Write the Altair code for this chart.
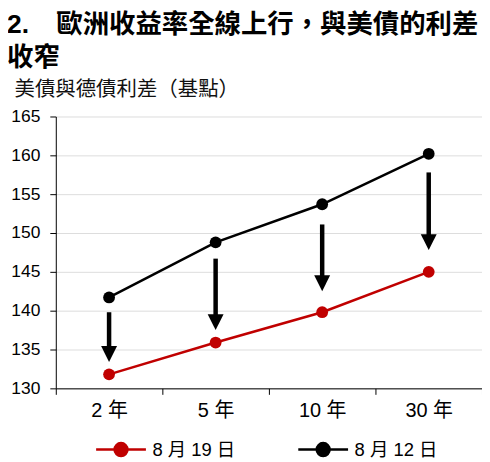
import altair as alt
import pandas as pd

# ---- data ----
tenors = ["2 年", "5 年", "10 年", "30 年"]
series_names = ["8 月 19 日", "8 月 12 日"]
aug19 = [131.8, 135.9, 139.8, 145.0]
aug12 = [141.7, 148.8, 153.7, 160.2]
arrow_top = [139.8, 146.7, 151.1, 157.8]
arrow_base = [135.4, 139.3, 144.4, 149.7]
arrow_tip = [133.4, 137.5, 142.5, 147.8]
y_ticks = [130, 135, 140, 145, 150, 155, 160, 165]
colors = ["#C00000", "#000000"]

title_lines = ["2.\u00a0\u00a0\u00a0\u2009歐洲收益率全線上行，與美債的利差", "收窄"]
y_title = "美債與德債利差（基點）"

rows = []
for t, a, b in zip(tenors, aug19, aug12):
    rows.append({"tenor": t, "series": series_names[0], "value": a})
    rows.append({"tenor": t, "series": series_names[1], "value": b})
df = pd.DataFrame(rows)
arrows = pd.DataFrame({"tenor": tenors, "top": arrow_top, "base": arrow_base, "tip": arrow_tip})

NUM_FONT = "'Liberation Sans', 'Noto Sans CJK TC', sans-serif"
CJK_FONT = "'Liberation Sans', 'Noto Sans CJK TC', sans-serif"

x_axis = alt.Axis(title=None, labelAngle=0, tickBand="extent", domainColor="#000000",
                  tickColor="#000000", tickSize=6, labelFont=NUM_FONT, labelFontSize=20,
                  labelColor="#000000", labelPadding=6, grid=False)
x_scale = alt.Scale(domain=tenors, paddingInner=0, paddingOuter=0)
y_scale = alt.Scale(domain=[130, 165], nice=False, zero=False)
y_axis = alt.Axis(values=y_ticks, title=y_title, titleAngle=0, titleAlign="left", titleBaseline="alphabetic",
                  titleX=-42, titleY=-21, titleFont=CJK_FONT, titleFontSize=20.5, titleFontWeight="normal",
                  titleColor="#111111", labelFont=NUM_FONT, labelFontSize=17.5, labelColor="#000000",
                  labelPadding=10, labelOverlap=False, tickSize=6, tickColor="#000000",
                  domainColor="#000000", grid=True, gridColor="#DDDDDD", gridWidth=1)


def X():
    return alt.X("tenor:N", sort=tenors, scale=x_scale, axis=x_axis)


def Y(field):
    return alt.Y(field, scale=y_scale, axis=y_axis)


color_enc = alt.Color("series:N", sort=series_names,
                      scale=alt.Scale(domain=series_names, range=colors),
                      legend=alt.Legend(title=None, orient="none", legendX=39, legendY=308,
                                        direction="horizontal",
                                        symbolType="M-1,0L1,0M-0.26,0A0.26,0.26,0,1,0,0.26,0A0.26,0.26,0,1,0,-0.26,0Z",
                                        symbolSize=2500, symbolStrokeWidth=2.5,
                                        labelFont=NUM_FONT, labelFontSize=18.5, labelColor="#000000",
                                        labelOffset=5, columnPadding=57))

lines = alt.Chart(df).mark_line(strokeWidth=2.5).encode(x=X(), y=Y("value:Q"), color=color_enc)
points = alt.Chart(df).mark_circle(size=140, opacity=1).encode(x=X(), y=Y("value:Q"), color=color_enc)
shafts = alt.Chart(arrows).mark_rule(strokeWidth=4.5, color="#000000", strokeCap="butt").encode(
    x=X(), y=Y("top:Q"), y2="base:Q")
heads = alt.Chart(arrows).mark_point(shape="M-1,-2L1,-2L0,0Z", size=256, filled=True,
                                     color="#000000", opacity=1).encode(x=X(), y=Y("tip:Q"))

chart = alt.layer(lines, points, shafts, heads).properties(
    width=428, height=273,
    padding={"left": 48, "top": 108, "right": 0, "bottom": 71},
    autosize=alt.AutoSizeParams(type="none"),
    title=alt.TitleParams(text=title_lines, anchor="start", frame="group", dx=-49, offset=8,
                          font=CJK_FONT, fontSize=26.5, fontWeight="bold", color="#000000",
                          lineHeight=33),
).configure_view(stroke=None)

chart.save("out.html", embed_options={"renderer": "svg", "actions": False})
